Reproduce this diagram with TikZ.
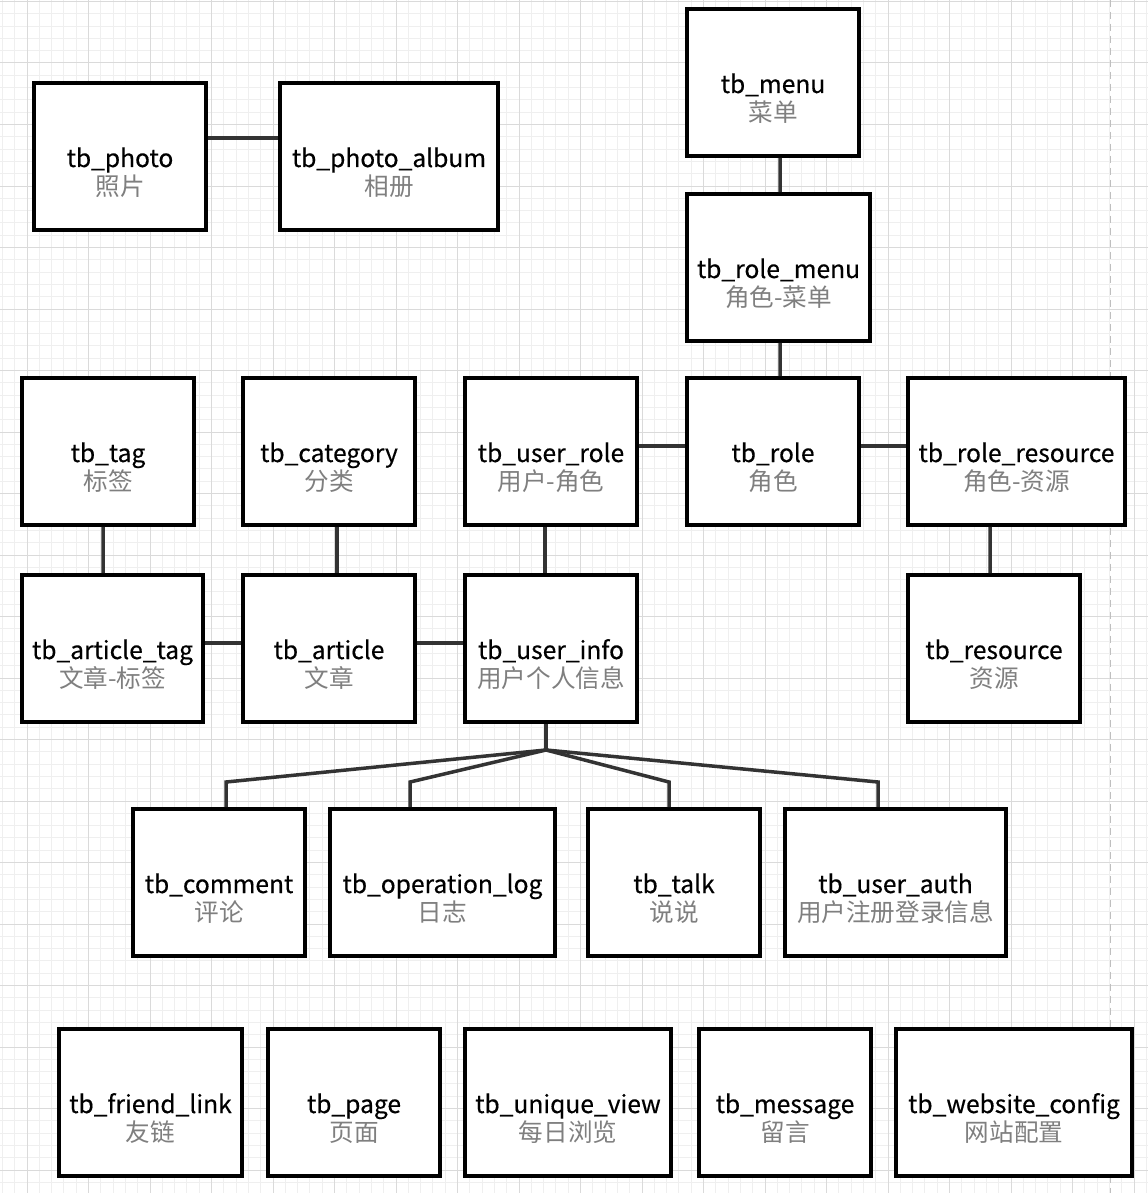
\documentclass[tikz,border=0pt]{standalone}
\usepackage{fontspec}
\setmainfont{Noto Sans CJK SC}
\newfontfamily\titlefont{Noto Sans CJK SC}[FakeBold=0.4]
\usetikzlibrary{positioning}
\definecolor{gridminor}{HTML}{EFEFEF}
\definecolor{gridmajor}{HTML}{DADADA}
\definecolor{linkgray}{HTML}{333333}
\definecolor{subgray}{HTML}{7F7F7F}
\tikzset{
  tbl/.style={draw, line width=0.08cm, fill=white, inner sep=0pt,
    minimum width=3.44cm, minimum height=2.94cm,
    font=\titlefont\fontsize{14}{17}\selectfont, text height=0.48cm, text depth=0.06cm},
  cn/.style={draw=none, fill=none, inner sep=0pt, yshift=-0.59cm, text=subgray,
    font=\normalfont\fontsize{14}{17}\selectfont, text height=0.44cm, text depth=0.06cm},
  link/.style={draw=linkgray, line width=0.07cm},
  gridline/.style={line width=0.02cm},
}
\begin{document}
\begin{tikzpicture}[x=0.02cm, y=-0.02cm]
\useasboundingbox (0,0) rectangle (1148,1193);
\fill[white] (0,0) rectangle (1148,1193);

% Grid
\foreach \i in {0,...,93} \draw[gridline, gridminor] ({2.4+12.3*\i},0) -- ({2.4+12.3*\i},1193);
\foreach \i in {0,...,97} \draw[gridline, gridminor] (0,{1.5+12.3*\i}) -- (1148,{1.5+12.3*\i});
\foreach \i in {0,...,18} \draw[gridline, gridmajor] ({27+61.5*\i},0) -- ({27+61.5*\i},1193);
\foreach \i in {0,...,19} \draw[gridline, gridmajor] (0,{1.5+61.5*\i}) -- (1148,{1.5+61.5*\i});
\draw[gridline, draw=black!25, dash pattern=on 0.14cm off 0.1cm] (1110,0) -- (1110,1193);

% Photos and menus
\node[tbl] (photo) at (120,156.5) [label={[cn]center:照片}] {tb\_photo};
\node[tbl, minimum width=4.36cm] (album) at (389,156.5) [label={[cn]center:相册}] {tb\_photo\_album};
\node[tbl] (menu) at (773,82.5) [label={[cn]center:菜单}] {tb\_menu};
\node[tbl, minimum width=3.66cm] (rolemenu) at (778.5,267.5) [label={[cn]center:角色-菜单}] {tb\_role\_menu};

% Roles and categories
\node[tbl] (tag) at (108,451.5) [label={[cn]center:标签}] {tb\_tag};
\node[tbl] (cat) at (329,451.5) [label={[cn]center:分类}] {tb\_category};
\node[tbl] (urole) at (551,451.5) [label={[cn]center:用户-角色}] {tb\_user\_role};
\node[tbl] (role) at (773,451.5) [label={[cn]center:角色}] {tb\_role};
\node[tbl, minimum width=4.34cm] (roleres) at (1016.5,451.5) [label={[cn]center:角色-资源}] {tb\_role\_resource};

% Articles and users
\node[tbl, minimum width=3.62cm] (atag) at (112.5,648.5) [label={[cn]center:文章-标签}] {tb\_article\_tag};
\node[tbl] (article) at (329,648.5) [label={[cn]center:文章}] {tb\_article};
\node[tbl] (uinfo) at (551,648.5) [label={[cn]center:用户个人信息}] {tb\_user\_info};
\node[tbl] (res) at (994,648.5) [label={[cn]center:资源}] {tb\_resource};

% User records
\node[tbl] (comment) at (219,882.5) [label={[cn]center:评论}] {tb\_comment};
\node[tbl, minimum width=4.5cm] (oplog) at (442.5,882.5) [label={[cn]center:日志}] {tb\_operation\_log};
\node[tbl] (talk) at (674,882.5) [label={[cn]center:说说}] {tb\_talk};
\node[tbl, minimum width=4.42cm] (uauth) at (895.5,882.5) [label={[cn]center:用户注册登录信息}] {tb\_user\_auth};

% Stand-alone tables
\node[tbl, minimum width=3.66cm] (flink) at (150.5,1102.5) [label={[cn]center:友链}] {tb\_friend\_link};
\node[tbl] (page) at (354,1102.5) [label={[cn]center:页面}] {tb\_page};
\node[tbl, minimum width=4.12cm] (uview) at (568,1102.5) [label={[cn]center:每日浏览}] {tb\_unique\_view};
\node[tbl] (msg) at (785,1102.5) [label={[cn]center:留言}] {tb\_message};
\node[tbl, minimum width=4.72cm] (wconf) at (1014,1102.5) [label={[cn]center:网站配置}] {tb\_website\_config};

% Connect the tables
\draw[link] ([yshift=0.37cm]photo.east) -- ([yshift=0.37cm]album.west);
\draw[link] ([xshift=0.14cm]menu.south) -- ([xshift=0.03cm]rolemenu.north);
\draw[link] ([xshift=0.03cm]rolemenu.south) -- ([xshift=0.14cm]role.north);
\draw[link] ([yshift=0.11cm]urole.east) -- ([yshift=0.11cm]role.west);
\draw[link] ([yshift=0.11cm]role.east) -- ([yshift=0.11cm]roleres.west);
\draw[link] ([xshift=-0.53cm]roleres.south) -- ([xshift=-0.08cm]res.north);
\draw[link] ([xshift=-0.1cm]tag.south) -- ([xshift=-0.19cm]atag.north);
\draw[link] ([xshift=0.16cm]cat.south) -- ([xshift=0.16cm]article.north);
\draw[link] ([xshift=-0.12cm]urole.south) -- ([xshift=-0.12cm]uinfo.north);
\draw[link] ([yshift=0.11cm]atag.east) -- ([yshift=0.11cm]article.west);
\draw[link] ([yshift=0.11cm]article.east) -- ([yshift=0.11cm]uinfo.west);

% Fan out from tb_user_info
\coordinate (fan) at ([xshift=-0.1cm, yshift=-0.52cm]uinfo.south);
\draw[link] ([xshift=-0.1cm]uinfo.south) -- (fan);
\foreach \n/\dx in {comment/0.14, oplog/-0.65, talk/-0.1, uauth/-0.35}
  \draw[link] (fan) -- ([xshift=\dx cm, yshift=0.5cm]\n.north) -- ([xshift=\dx cm]\n.north);
\end{tikzpicture}
\end{document}
